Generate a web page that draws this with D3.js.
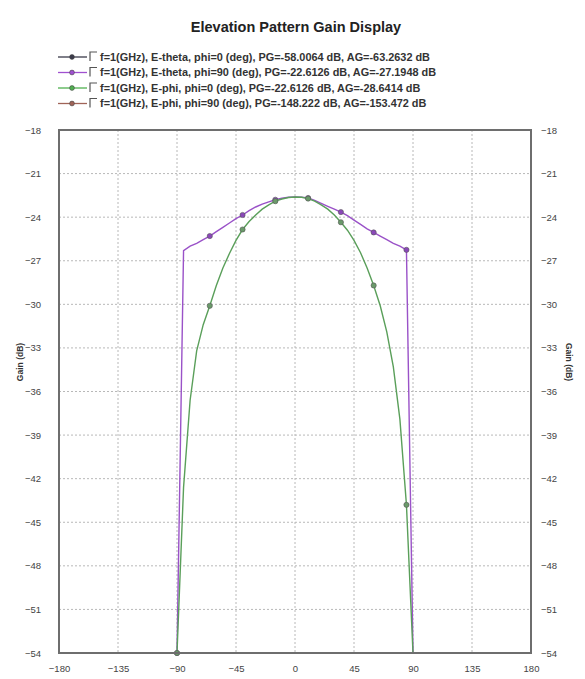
<!DOCTYPE html>
<html>
<head>
<meta charset="utf-8">
<script src="https://cdn.jsdelivr.net/npm/d3@7"></script>
<style>
  body { margin: 0; background: #fff; }
  svg { display: block; font-family: "Liberation Sans", Arial, sans-serif; }
</style>
</head>
<body>
<svg id="chart" width="585" height="679"></svg>
<script>
// ---- data ----
const chartTitle = "Elevation Pattern Gain Display";
const angles = [-90,-85,-80,-75,-70,-65,-60,-55,-50,-45,-40,-35,-30,-25,-20,-15,-10,-5,0,
                5,10,15,20,25,30,35,40,45,50,55,60,65,70,75,80,85,90];
const eThetaPhi90 = [-150,-26.3,-26.0,-25.8,-25.55,-25.3,-25.0,-24.7,-24.4,-24.1,-23.85,-23.55,-23.3,-23.1,-22.95,-22.8,-22.7,-22.63,-22.61,
                     -22.62,-22.68,-22.85,-23.05,-23.25,-23.45,-23.65,-23.9,-24.2,-24.5,-24.8,-25.05,-25.3,-25.55,-25.8,-26.0,-26.25,-150];
const ePhiPhi0 = [-150,-42.6,-36.6,-33.2,-31.4,-30.1,-28.7,-27.5,-26.5,-25.6,-24.85,-24.3,-23.85,-23.45,-23.15,-22.9,-22.75,-22.65,-22.61,
                  -22.63,-22.72,-22.9,-23.15,-23.45,-23.85,-24.35,-24.9,-25.6,-26.45,-27.5,-28.7,-30.1,-31.9,-34.3,-37.9,-43.8,-150];
const markerAngles = [-90,-65,-40,-15,10,35,60,85];
const legendLabels = [
  "f=1(GHz), E-theta, phi=0 (deg), PG=-58.0064 dB, AG=-63.2632 dB",
  "f=1(GHz), E-theta, phi=90 (deg), PG=-22.6126 dB, AG=-27.1948 dB",
  "f=1(GHz), E-phi, phi=0 (deg), PG=-22.6126 dB, AG=-28.6414 dB",
  "f=1(GHz), E-phi, phi=90 (deg), PG=-148.222 dB, AG=-153.472 dB"
];
const legendColors = ["#3a3a4a", "#a050d0", "#50b050", "#a06458"];
const xTicks = [-180,-135,-90,-45,0,45,90,135,180];
const yTicks = [-18,-21,-24,-27,-30,-33,-36,-39,-42,-45,-48,-51,-54];
const yLabel = "Gain (dB)";

// ---- layout ----
const svg = d3.select("#chart");
const L = 59, R = 531, T = 130, B = 653;
const x = d3.scaleLinear().domain([-180, 180]).range([L, R]);
const y = d3.scaleLinear().domain([-54, -18]).range([B, T]).clamp(true);

// title
svg.append("text").attr("x", 296).attr("y", 32).attr("text-anchor", "middle")
  .attr("font-size", 14.5).attr("font-weight", "bold").attr("fill", "#222").text(chartTitle);

// legend
const lg = svg.append("g");
const legendTexts = [];
legendLabels.forEach((t, i) => {
  const cy = 57 + i * 15.5;
  lg.append("line").attr("x1", 58).attr("x2", 87).attr("y1", cy).attr("y2", cy)
    .attr("stroke", legendColors[i]).attr("stroke-width", 1.3);
  lg.append("circle").attr("cx", 72).attr("cy", cy).attr("r", 2.4)
    .attr("fill", legendColors[i]).attr("stroke", "#444").attr("stroke-width", 0.6);
  lg.append("path").attr("d", `M90,${cy + 4}V${cy - 5}H97`)
    .attr("fill", "none").attr("stroke", "#555").attr("stroke-width", 1.2);
  legendTexts.push(lg.append("text").attr("x", 100).attr("y", cy + 3.5).attr("font-size", 10)
    .attr("font-weight", "bold").attr("fill", "#333").text(t));
});
const w0 = legendTexts[0].node().getComputedTextLength();
const k = 330 / w0;
legendTexts.forEach(tx => {
  tx.attr("textLength", tx.node().getComputedTextLength() * k).attr("lengthAdjust", "spacingAndGlyphs");
});

// grid
const grid = svg.append("g").attr("stroke", "#b8b8b8").attr("stroke-dasharray", "2,2").attr("stroke-width", 1);
xTicks.slice(1, -1).forEach(v => grid.append("line").attr("x1", x(v)).attr("x2", x(v)).attr("y1", T).attr("y2", B));
yTicks.slice(1, -1).forEach(v => grid.append("line").attr("x1", L).attr("x2", R).attr("y1", y(v)).attr("y2", y(v)));

// axes
const axL = svg.append("g").attr("transform", `translate(${L - 16},0)`)
  .call(d3.axisLeft(y).tickValues(yTicks).tickSize(0).tickPadding(2));
const axR = svg.append("g").attr("transform", `translate(${R + 8},0)`)
  .call(d3.axisRight(y).tickValues(yTicks).tickSize(0).tickPadding(2));
const axB = svg.append("g").attr("transform", `translate(0,${B + 8})`)
  .call(d3.axisBottom(x).tickValues(xTicks).tickSize(0).tickPadding(4));
[axL, axR, axB].forEach(a => {
  a.select(".domain").remove();
  a.selectAll("text").attr("font-size", 9.5).attr("fill", "#444")
    .attr("font-family", "'Liberation Sans', Arial, sans-serif");
});

// axis titles
svg.append("text").attr("transform", "translate(23,362) rotate(-90)").attr("text-anchor", "middle")
  .attr("font-size", 8.5).attr("font-weight", "bold").attr("fill", "#333").text(yLabel);
svg.append("text").attr("transform", "translate(566,362) rotate(90)").attr("text-anchor", "middle")
  .attr("font-size", 8.5).attr("font-weight", "bold").attr("fill", "#333").text(yLabel);

// series
const series = [
  { vals: eThetaPhi90, color: "#9a52c8", mk: "#8a48b8" },
  { vals: ePhiPhi0, color: "#5a9f5a", mk: "#6a9a6a" }
];
const line = d3.line().x(d => x(d[0])).y(d => y(d[1]));
series.forEach(s => {
  const pts = angles.map((a, i) => [a, s.vals[i]]);
  svg.append("path").attr("d", line(pts)).attr("fill", "none")
    .attr("stroke", s.color).attr("stroke-width", 1.4);
  svg.append("g").selectAll("circle").data(pts.filter(p => markerAngles.includes(p[0])))
    .join("circle").attr("cx", d => x(d[0])).attr("cy", d => y(d[1])).attr("r", 2.6)
    .attr("fill", s.mk).attr("stroke", "#555").attr("stroke-width", 0.6);
});

// frame
svg.append("rect").attr("x", L).attr("y", T).attr("width", R - L).attr("height", B - T)
  .attr("fill", "none").attr("stroke", "#6e6e6e").attr("stroke-width", 2);
</script>
</body>
</html>
